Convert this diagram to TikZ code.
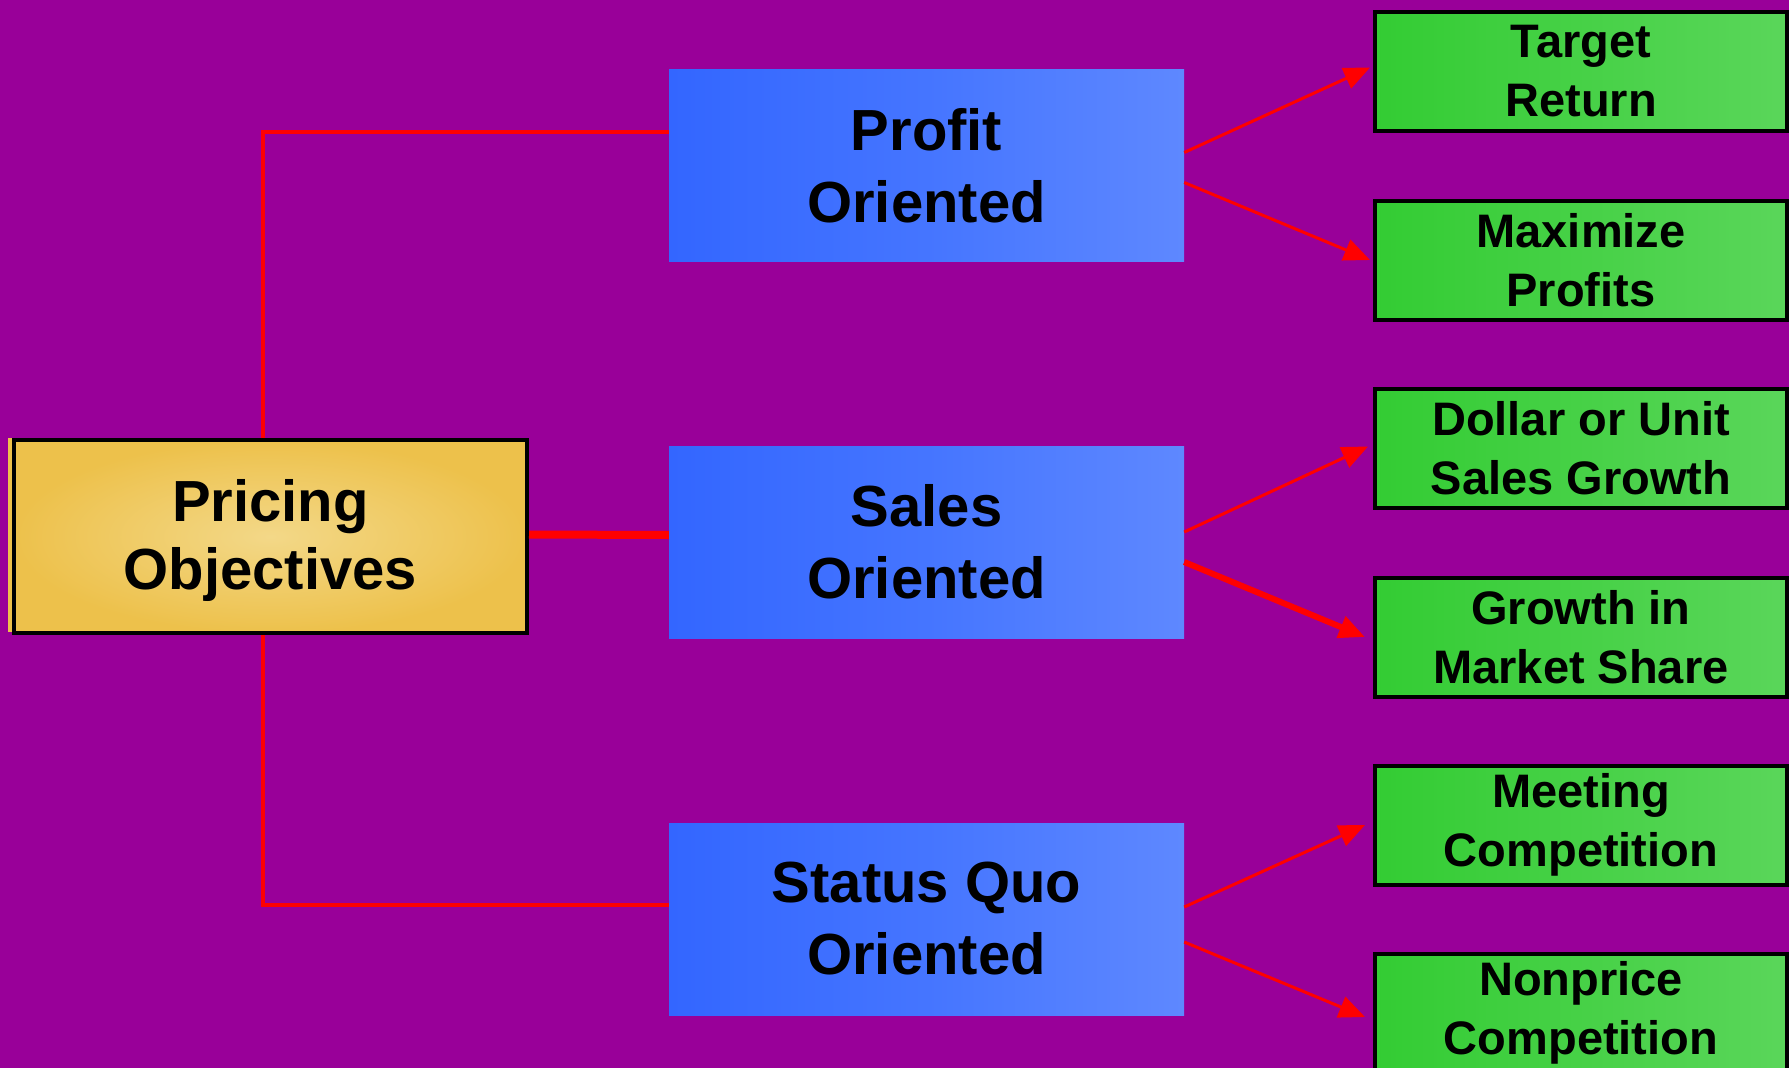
\documentclass[tikz,border=0pt]{standalone}
\usepackage{fontspec}
\setmainfont{Liberation Sans}
\usetikzlibrary{arrows.meta}
\definecolor{bgpurple}{HTML}{990099}
\definecolor{linered}{HTML}{FF0000}
\definecolor{blueL}{HTML}{3366FF}
\definecolor{blueM}{HTML}{4575FF}
\definecolor{blueR}{HTML}{5E88FF}
\definecolor{greenL}{HTML}{33CC33}
\definecolor{greenR}{HTML}{5AD65A}
\definecolor{goldOut}{HTML}{EDC14B}
\definecolor{goldIn}{HTML}{F3D888}
\tikzset{
  rootbox/.style={draw=black, line width=4pt, inner color=goldIn, outer color=goldOut,
    minimum width=513pt, minimum height=193pt, align=center,
    font=\fontsize{58}{68}\selectfont\bfseries},
  groupbox/.style={shading=axis, left color=blueL, right color=blueR, middle color=blueM,
    shading angle=90, minimum width=515pt, minimum height=192pt, align=center,
    font=\fontsize{58}{72}\selectfont\bfseries, inner sep=0pt},
  leafbox/.style={draw=black, line width=4pt, left color=greenL, right color=greenR,
    minimum width=412pt, minimum height=119pt, align=center,
    font=\fontsize{47}{59}\selectfont\bfseries, inner sep=0pt},
  tree/.style={draw=linered, line width=4pt},
  branch/.style={draw=linered, line width=3pt, -{Triangle[length=26pt,width=22pt]}},
}
\begin{document}
\begin{tikzpicture}[x=1pt,y=-1pt]
  % background
  \fill[bgpurple] (0,0) rectangle (1789,1068);
  \useasboundingbox (0,0) rectangle (1789,1068);

  % light edge strip at the left of the root box
  \fill[goldOut] (8,438) rectangle (12,632);

  % root
  \node[rootbox] (pricing) at (270.5,536.5) {\rule{0pt}{50pt}Pricing\\Objectives};

  % objective groups
  \node[groupbox] (profit) at (926.5,165.5) {Profit\\Oriented};
  \node[groupbox] (sales)  at (926.5,542) {Sales\\Oriented};
  \node[groupbox] (status) at (926.5,919) {Status Quo\\Oriented};

  % leaves
  \node[leafbox] (target)   at (1581,71.5)  {Target\\Return};
  \node[leafbox] (maximize) at (1581,260)   {Maximize\\Profits};
  \node[leafbox] (dollar)   at (1581,448.5) {Dollar or Unit\\Sales Growth};
  \node[leafbox] (growth)   at (1581,637)   {Growth in\\Market Share};
  \node[leafbox] (meeting)  at (1581,825)   {Meeting\\Competition};
  \node[leafbox] (nonprice) at (1581,1013)  {Nonprice\\Competition};

  % tree connectors from the root
  \coordinate (jtop) at (263,132);
  \coordinate (jbot) at (263,905);
  \draw[tree] (pricing.north -| jtop) -- (jtop) -- (jtop -| profit.west);
  \draw[tree] (pricing.south -| jbot) -- (jbot) -- (jbot -| status.west);
  \draw[draw=linered, line width=8pt] ([yshift=2pt]pricing.east) -- ([yshift=7pt]sales.west);

  % branches to the leaves
  \draw[branch] ([yshift=13pt]profit.east) -- ([yshift=4pt,xshift=-3pt]target.west);
  \draw[branch] ([yshift=-17pt]profit.east) -- ([xshift=-3pt]maximize.west);
  \draw[branch] ([yshift=10pt]sales.east) -- ([yshift=2pt,xshift=-5pt]dollar.west);
  \draw[branch, line width=6pt] ([yshift=-20pt]sales.east) -- ([xshift=-8pt]growth.west);
  \draw[branch] ([yshift=12pt]status.east) -- ([xshift=-8pt]meeting.west);
  \draw[branch] ([yshift=-23pt]status.east) -- ([yshift=-4pt,xshift=-8pt]nonprice.west);
\end{tikzpicture}
\end{document}
